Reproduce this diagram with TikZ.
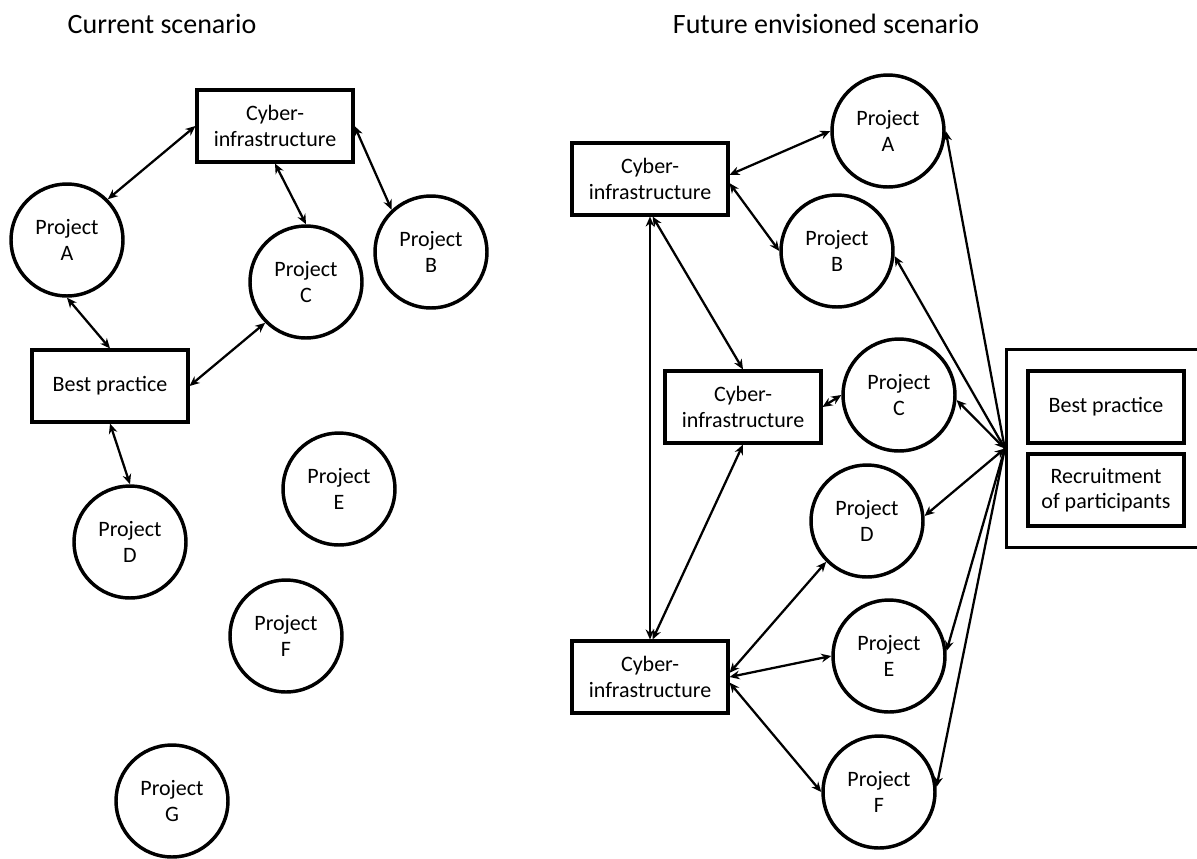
\documentclass[tikz,border=0pt]{standalone}
\usepackage{fontspec}
\setmainfont{Carlito}
\usepackage{tikz}
\usetikzlibrary{arrows.meta}

\begin{document}
\begin{tikzpicture}[x=0.75pt, y=-0.75pt,
  proj/.style={circle, draw, line width=2.6pt, minimum size=84pt, inner sep=0pt,
    align=center, font=\fontsize{16.5}{19}\selectfont},
  cbox/.style={rectangle, draw, line width=2.3pt, minimum width=117pt, minimum height=54pt,
    inner sep=2pt, align=center, font=\fontsize{16.5}{19}\selectfont},
  link/.style={line width=1.7pt, {Stealth[length=7.5pt,width=6.5pt]}-{Stealth[length=7.5pt,width=6.5pt]}},
  onelink/.style={line width=1.7pt, -{Stealth[length=7.5pt,width=6.5pt]}},
  heading/.style={anchor=base, font=\fontsize{21}{25}\selectfont}]
\useasboundingbox (0,0) rectangle (1197,858);

% current scenario
\node[heading] (titleL) at (162,33) {Current scenario};
\node[cbox] (cybL) at (275,126) {Cyber-\\infrastructure};
\node[cbox] (bpL) at (110,386) {Best practice};
\node[proj] (pAL) at (67,240) {Project\\A};
\node[proj] (pBL) at (431,252) {Project\\B};
\node[proj] (pCL) at (306,282) {Project\\C};
\node[proj] (pDL) at (130,542) {Project\\D};
\node[proj] (pEL) at (339,489) {Project\\E};
\node[proj] (pFL) at (286,636) {Project\\F};
\node[proj] (pGL) at (172,801) {Project\\G};

\draw[link] (pAL.45) -- (cybL.west);
\draw[link] (cybL.south) -- (pCL.north);
\draw[link] (cybL.east) -- (pBL.133);
\draw[link] (pAL.south) -- (bpL.north);
\draw[link] (bpL.east) -- (pCL.225);
\draw[link] (bpL.south) -- (pDL.north);

% future envisioned scenario
\node[heading] (titleR) at (826,33) {Future envisioned scenario};
\node[cbox] (cybT) at (650,179) {Cyber-\\infrastructure};
\node[cbox] (cybM) at (743,407) {Cyber-\\infrastructure};
\node[cbox] (cybB) at (650,677) {Cyber-\\infrastructure};
\node[proj] (pAR) at (888,131) {Project\\A};
\node[proj] (pBR) at (837,251) {Project\\B};
\node[proj] (pCR) at (899,395) {Project\\C};
\node[proj] (pDR) at (867,521) {Project\\D};
\node[proj] (pER) at (889,656) {Project\\E};
\node[proj] (pFR) at (879,792) {Project\\F};

\node[draw, line width=2.3pt, minimum width=190pt, minimum height=149pt] (hub) at (1133,448.5) {};
\node[cbox] (bpR) at (1106,407) {Best practice};
\node[cbox] (recR) at (1106,490) {Recruitment\\of participants};

\draw[link] (cybT.3) -- (pAR.west);
\draw[link] (cybT.-3) -- (pBR.west);
\draw[link] (cybT.south) -- (cybB.north);
\draw[link] (cybT.-86) -- (cybM.north);
\draw[link] (cybM.south) -- (cybB.86);
\draw[link] (cybM.east) -- (pCR.west);
\draw[link] (cybB.3) -- (pDR.225);
\draw[link] (cybB.0) -- (pER.west);
\draw[link] (cybB.-4) -- (pFR.west);

\foreach \p/\a in {pAR/east, pBR/-5, pER/5, pFR/5} {
  \draw[onelink] (hub.west) -- (\p.\a);
}
\draw[link] (hub.west) -- (pCR.-5);
\draw[link] (hub.west) -- (pDR.5);

\end{tikzpicture}
\end{document}
